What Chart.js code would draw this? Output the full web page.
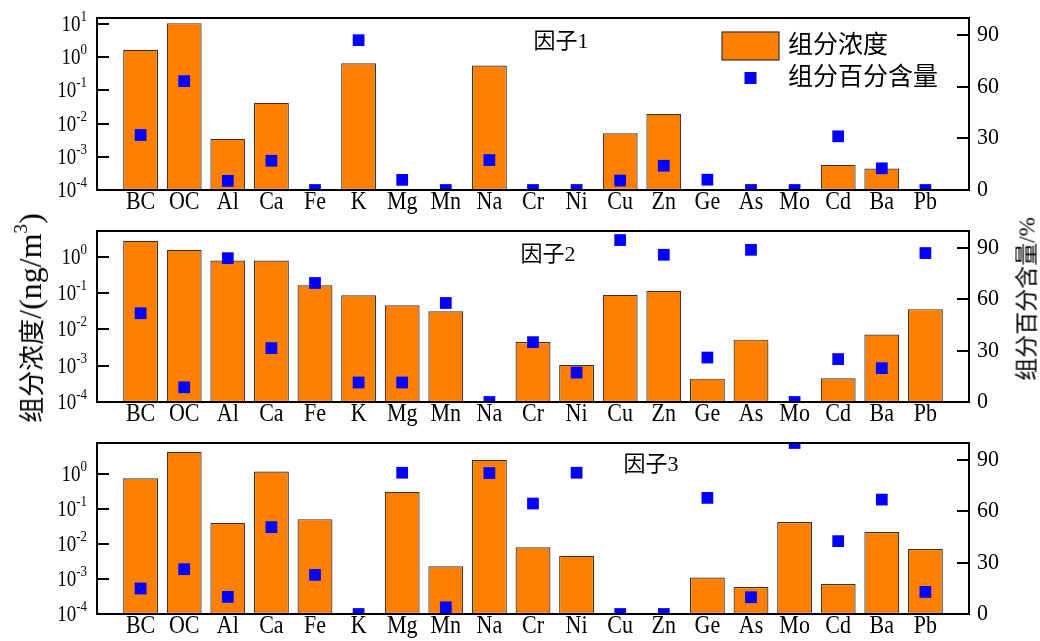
<!DOCTYPE html>
<html>
<head>
<meta charset="utf-8">
<script src="https://cdn.jsdelivr.net/npm/chart.js@4/dist/chart.umd.min.js"></script>
<style>
  html, body { margin: 0; padding: 0; background: #fff; }
  body { width: 1040px; height: 641px; position: relative; overflow: hidden; }
  canvas { position: absolute; left: 0; }
  .axis-title {
    position: absolute; white-space: nowrap; color: #000;
    font-family: "Liberation Serif", "Noto Sans CJK SC", serif;
    transform: translate(-50%, -50%) rotate(-90deg);
    line-height: 1;
  }
  .axis-title .lat { font-family: "Liberation Serif", serif; }
  .axis-title sup { font-size: 0.6em; vertical-align: 0.75em; line-height: 0; }
</style>
</head>
<body>
<canvas id="f1" width="1040" height="215" style="top:0px"></canvas>
<canvas id="f2" width="1040" height="213" style="top:215px"></canvas>
<canvas id="f3" width="1040" height="213" style="top:428px"></canvas>
<div class="axis-title" style="left:30px; top:318px; font-size:26px;">组分浓度<span class="lat" style="font-size:32px">/(ng/m<sup>3</sup>)</span></div>
<div class="axis-title" style="left:1027px; top:299px; font-size:23px;">组分百分含量<span class="lat">/%</span></div>

<script>
// Species on the horizontal axis
const elements = ['BC','OC','Al','Ca','Fe','K','Mg','Mn','Na','Cr','Ni','Cu','Zn','Ge','As','Mo','Cd','Ba','Pb'];

// Factor profiles: species concentration (ng/m3), null = not present
const conc1 = [1.65, 10.5, 0.0035, 0.042, null, 0.65, null, null, 0.555, null, null, 0.0051, 0.0195, null, null, null, 0.00057, 0.00044, null];
const conc2 = [2.76, 1.56, 0.78, 0.78, 0.164, 0.087, 0.046, 0.0316, null, 0.0045, 0.00105, 0.090, 0.116, 0.00044, 0.0052, null, 0.00045, 0.0072, 0.036];
const conc3 = [0.75, 4.25, 0.040, 1.16, 0.051, null, 0.31, 0.0023, 2.51, 0.0080, 0.0046, null, null, 0.0011, 0.00059, 0.042, 0.00072, 0.022, 0.0072];

// Share of each species explained by the factor (%)
const share1 = [32.0, 63.3, 5.3, 17.0, 0, 87.1, 5.9, 0, 17.4, 0, 0, 5.5, 14.1, 6.0, 0, 0, 31.2, 12.6, 0];
const share2 = [51.9, 8.6, 84.1, 31.5, 69.6, 11.4, 11.4, 57.9, 0, 35.0, 17.2, 94.7, 86.1, 26.0, 89.0, 0, 25.1, 19.8, 87.1];
const share3 = [14.9, 26.2, 10.0, 50.8, 22.9, 0, 82.6, 3.9, 82.4, 64.6, 82.6, 0, 0, 67.9, 9.8, 100, 42.6, 66.9, 12.9];

// Panel names, axis ticks
const factorNames = ['因子1', '因子2', '因子3'];
const concTicks = [1e-4, 1e-3, 1e-2, 1e-1, 1e0, 1e1];
const shareTicks = [0, 30, 60, 90];
const seriesNames = ['组分浓度', '组分百分含量'];

const SERIF = '"Liberation Serif", "Noto Sans CJK SC", serif';
const BAR_FILL = '#FF8000';
const BAR_EDGE = '#333333';
const POINT_FILL = '#0000FF';

// text drawn with a slight vertical stretch (tall Times-style glyphs)
function tallText(ctx, text, x, y, sy) {
  ctx.save();
  ctx.translate(x, y);
  ctx.scale(1, sy);
  ctx.fillText(text, 0, 0);
  ctx.restore();
}

// Frame, inward ticks, tick labels, panel title and (optionally) legend
const panelDecor = {
  id: 'panelDecor',
  afterDatasetsDraw(chart, args, opts) {
    const { ctx, chartArea: a, scales } = chart;
    const yl = scales.y, yr = scales.y2, xs = scales.x;
    ctx.save();
    ctx.fillStyle = '#000';
    ctx.strokeStyle = '#000';

    // box around the plot
    ctx.lineWidth = 2;
    ctx.strokeRect(a.left, a.top, a.right - a.left, a.bottom - a.top);

    // left log axis: ticks + 10^n labels
    yl.ticks.forEach(t => {
      const py = Math.round(yl.getPixelForValue(t.value));
      ctx.beginPath(); ctx.moveTo(a.left, py); ctx.lineTo(a.left + 12, py); ctx.stroke();
      const exp = String(Math.round(Math.log10(t.value)));
      const xEnd = a.left - 10;
      ctx.font = '13px ' + SERIF;
      const supW = ctx.measureText(exp).width;
      ctx.textAlign = 'left';
      ctx.textBaseline = 'alphabetic';
      tallText(ctx, exp, xEnd - supW, py - 3, 1.12);
      ctx.font = '19px ' + SERIF;
      const baseW = ctx.measureText('10').width;
      ctx.textBaseline = 'middle';
      tallText(ctx, '10', xEnd - supW - baseW, py + 1.5, 1.17);
    });

    // right linear axis
    yr.ticks.forEach(t => {
      const py = Math.round(yr.getPixelForValue(t.value));
      ctx.beginPath(); ctx.moveTo(a.right - 12, py); ctx.lineTo(a.right, py); ctx.stroke();
      ctx.font = '22px ' + SERIF;
      ctx.textAlign = 'left';
      ctx.textBaseline = 'middle';
      tallText(ctx, String(t.value), a.right + 8, py, 1.05);
    });

    // category labels
    ctx.font = '22px ' + SERIF;
    ctx.textAlign = 'center';
    ctx.textBaseline = 'middle';
    chart.data.labels.forEach((lab, i) => {
      if (!lab) return;
      tallText(ctx, lab, xs.getPixelForValue(i), a.bottom + 13, 1.12);
    });

    // panel title
    ctx.font = '22px ' + SERIF;
    ctx.fillText(opts.title, opts.titleX, opts.titleY);

    // legend
    if (opts.legend) {
      const L = opts.legend;
      const ds = chart.data.datasets;
      ctx.fillStyle = ds[0].backgroundColor;
      ctx.fillRect(L.x, L.y, 57, 28);
      ctx.lineWidth = 1.2;
      ctx.strokeStyle = ds[0].borderColor;
      ctx.strokeRect(L.x, L.y, 57, 28);
      ctx.fillStyle = ds[1].pointBackgroundColor;
      ctx.fillRect(L.x + 28.5 - 6, L.y + 46 - 6, 12, 12);
      ctx.fillStyle = '#000';
      ctx.font = '25px ' + SERIF;
      ctx.textAlign = 'left';
      ctx.textBaseline = 'middle';
      ctx.fillText(ds[0].label, L.x + 66, L.y + 14);
      ctx.fillText(ds[1].label, L.x + 66, L.y + 46);
    }
    ctx.restore();
  }
};

function makePanel(id, conc, share, yMax, title, plot, decor) {
  const canvas = document.getElementById(id);
  const H = canvas.height;
  const labels = ['', ...elements, ''];
  return new Chart(canvas, {
    data: {
      labels,
      datasets: [
        {
          type: 'bar',
          label: seriesNames[0],
          data: [null, ...conc, null],
          yAxisID: 'y',
          backgroundColor: BAR_FILL,
          borderColor: BAR_EDGE,
          borderWidth: 1.2,
          borderSkipped: false,
          barPercentage: 0.8,
          categoryPercentage: 1,
          order: 2
        },
        {
          type: 'line',
          label: seriesNames[1],
          data: [null, ...share, null],
          yAxisID: 'y2',
          showLine: false,
          pointStyle: 'rect',
          pointRadius: 8.3,
          pointHoverRadius: 8.3,
          pointBackgroundColor: POINT_FILL,
          pointBorderWidth: 0,
          borderColor: POINT_FILL,
          clip: 0,
          order: 1
        }
      ]
    },
    options: {
      responsive: false,
      animation: false,
      events: [],
      layout: { padding: { top: plot.top, left: 0, right: 0, bottom: 0 } },
      plugins: {
        legend: { display: false },
        tooltip: { enabled: false },
        panelDecor: Object.assign({ title }, decor)
      },
      scales: {
        x: {
          type: 'category',
          offset: false,
          grid: { display: false, drawTicks: false },
          border: { display: false },
          ticks: { display: false, autoSkip: false },
          afterFit: s => { s.height = H - plot.bottom; }
        },
        y: {
          type: 'logarithmic',
          position: 'left',
          min: 1e-4,
          max: yMax,
          grid: { display: false, drawTicks: false },
          border: { display: false },
          ticks: { display: false },
          afterBuildTicks: s => { s.ticks = concTicks.filter(v => v <= yMax).map(v => ({ value: v })); },
          afterFit: s => { s.width = 97; }
        },
        y2: {
          type: 'linear',
          position: 'right',
          min: 0,
          max: 100,
          grid: { display: false, drawTicks: false },
          border: { display: false },
          ticks: { display: false, stepSize: 30 },
          afterBuildTicks: s => { s.ticks = shareTicks.map(v => ({ value: v })); },
          afterFit: s => { s.width = 1040 - 969; }
        }
      }
    },
    plugins: [panelDecor]
  });
}

makePanel('f1', conc1, share1, 15, factorNames[0], { top: 18, bottom: 190 },
  { titleX: 561, titleY: 42, legend: { x: 722, y: 32 } });
makePanel('f2', conc2, share2, 5.1, factorNames[1], { top: 16, bottom: 187 },
  { titleX: 548, titleY: 40 });
makePanel('f3', conc3, share3, 7.6, factorNames[2], { top: 15, bottom: 186 },
  { titleX: 651, titleY: 37 });
</script>
</body>
</html>
